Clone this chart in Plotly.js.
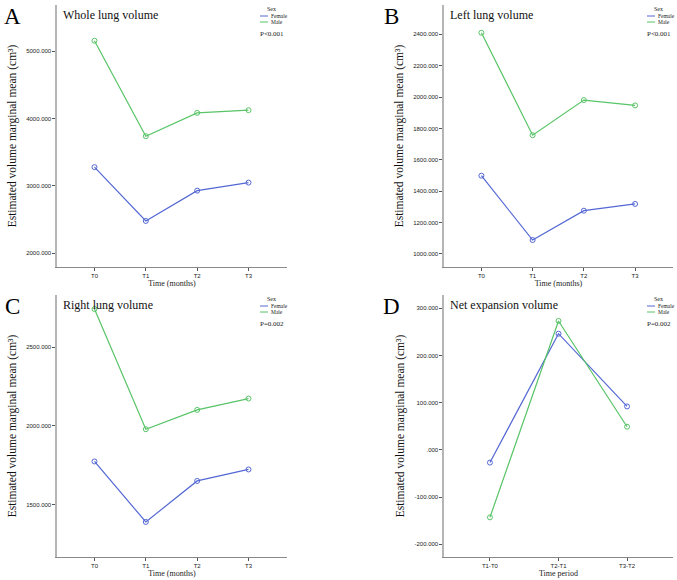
<!DOCTYPE html>
<html>
<head>
<meta charset="utf-8">
<script src="https://cdn.plot.ly/plotly-3.0.1.min.js"></script>
<style>html,body{margin:0;padding:0;background:#fff}#chart{width:677px;height:580px}</style>
</head>
<body>
<div id="chart"></div>
<script>
// ---------- data ----------
var timeCats = ["T0", "T1", "T2", "T3"];
var periodCats = ["T1-T0", "T2-T1", "T3-T2"];

var wholeFemale = [3278, 2480, 2930, 3049];
var wholeMale   = [5153, 3737, 4083, 4123];
var leftFemale  = [1499, 1089, 1276, 1319];
var leftMale    = [2410, 1757, 1981, 1947];
var rightFemale = [1774, 1389, 1650, 1723];
var rightMale   = [2744, 1979, 2102, 2174];
var netFemale   = [-27, 246, 92];
var netMale     = [-143, 273, 49];

var wholeTicks = [2000, 3000, 4000, 5000];
var wholeTickText = ["2000.000", "3000.000", "4000.000", "5000.000"];
var leftTicks = [1000, 1200, 1400, 1600, 1800, 2000, 2200, 2400];
var leftTickText = ["1000.000", "1200.000", "1400.000", "1600.000", "1800.000", "2000.000", "2200.000", "2400.000"];
var rightTicks = [1500, 2000, 2500];
var rightTickText = ["1500.000", "2000.000", "2500.000"];
var netTicks = [-200, -100, 0, 100, 200, 300];
var netTickText = ["-200.000", "-100.000", ".000", "100.000", "200.000", "300.000"];

var seriesNames = ["Female", "Male"];
var panelLetters = ["A", "B", "C", "D"];
var panelTitles = ["Whole lung volume", "Left lung volume", "Right lung volume", "Net expansion volume"];
var pValues = ["P<0.001", "P<0.001", "P=0.002", "P=0.002"];
var legendTitle = "Sex";
var yTitle = "Estimated volume marginal mean (cm\u00b3)";
var xTitles = ["Time (months)", "Time (months)", "Time (months)", "Time period"];

// ---------- style ----------
var W = 677, H = 580;
var colF = "#5468d4", colM = "#58c467";
var serif = "Liberation Serif, Times New Roman, serif";
var sans = "Liberation Sans, Arial, sans-serif";
function px(x) { return x / W; }
function py(y) { return 1 - y / H; }

// panel boxes in pixels: [left, right, top, bottom]
var boxes = [[57, 287, 5, 267], [444, 673, 5, 267], [57, 287, 295, 557], [444, 673, 295, 557]];
var yRanges = [[1797, 5683], [917, 2587], [1166, 2833], [-227, 328]];
var xRanges = [[-0.73, 3.75], [-0.73, 3.74], [-0.73, 3.75], [-0.67, 2.67]];
var tickVals = [wholeTicks, leftTicks, rightTicks, netTicks];
var tickTexts = [wholeTickText, leftTickText, rightTickText, netTickText];
var cats = [timeCats, timeCats, timeCats, periodCats];
var femData = [wholeFemale, leftFemale, rightFemale, netFemale];
var maleData = [wholeMale, leftMale, rightMale, netMale];

var data = [];
var layout = {
  width: W, height: H,
  margin: {l: 0, r: 0, t: 0, b: 0},
  paper_bgcolor: "#fff", plot_bgcolor: "#fff",
  showlegend: false,
  annotations: [], shapes: []
};

for (var i = 0; i < 4; i++) {
  var sfx = i === 0 ? "" : String(i + 1);
  var b = boxes[i];
  var xa = "x" + sfx, ya = "y" + sfx;
  [[femData[i], colF, seriesNames[0]], [maleData[i], colM, seriesNames[1]]].forEach(function (s) {
    data.push({
      type: "scatter", mode: "lines+markers",
      x: cats[i], y: s[0], name: s[2],
      xaxis: xa, yaxis: ya,
      line: {color: s[1], width: 1.2},
      marker: {symbol: "circle-open", size: 5, color: s[1], line: {width: 1, color: s[1]}},
      hoverinfo: "x+y+name"
    });
  });
  layout["xaxis" + sfx] = {
    domain: [px(b[0]), px(b[1])], anchor: ya,
    type: "category", range: xRanges[i],
    showline: true, linecolor: "#8a8a8a", linewidth: 1,
    ticks: "outside", ticklen: 3, tickcolor: "#555", tickwidth: 1,
    showgrid: false, zeroline: false,
    tickfont: {family: sans, size: 6, color: "#222"},
    title: {text: xTitles[i], font: {family: serif, size: 8, color: "#222"}, standoff: 2}
  };
  layout["yaxis" + sfx] = {
    domain: [py(b[3]), py(b[2])], anchor: xa,
    range: yRanges[i],
    tickmode: "array", tickvals: tickVals[i], ticktext: tickTexts[i],
    showline: true, linecolor: "#b5b5b5", linewidth: 1.6,
    ticks: "outside", ticklen: 3, tickcolor: "#555", tickwidth: 1,
    showgrid: false, zeroline: false,
    tickfont: {family: sans, size: 6, color: "#222"},
    title: {text: yTitle, font: {family: serif, size: 11.5, color: "#111"}, standoff: 7}
  };

  var dx = b[0] - 57, dy = b[2] - 5;
  // panel letter
  layout.annotations.push({xref: "paper", yref: "paper", x: px(12 + dx - (i % 2 ? 8 : 0)), y: py(16 + dy), text: panelLetters[i],
    showarrow: false, xanchor: "center", yanchor: "middle", font: {family: serif, size: 23, color: "#000"}});
  // title
  layout.annotations.push({xref: "paper", yref: "paper", x: px(61 + dx), y: py(15 + dy), text: panelTitles[i],
    showarrow: false, xanchor: "left", yanchor: "middle", font: {family: serif, size: 12, color: "#111"}});
  // p value
  layout.annotations.push({xref: "paper", yref: "paper", x: px(258 + dx), y: py(34 + dy), text: pValues[i],
    showarrow: false, xanchor: "left", yanchor: "middle", font: {family: serif, size: 7, color: "#222"}});
  // legend
  layout.annotations.push({xref: "paper", yref: "paper", x: px(271 + dx), y: py(9 + dy), text: legendTitle,
    showarrow: false, xanchor: "center", yanchor: "middle", font: {family: serif, size: 6, color: "#222"}});
  [[seriesNames[0], colF, 16], [seriesNames[1], colM, 22]].forEach(function (l) {
    layout.shapes.push({type: "line", xref: "paper", yref: "paper", x0: px(260 + dx), x1: px(268 + dx),
      y0: py(l[2] + dy), y1: py(l[2] + dy), line: {color: l[1], width: 1}});
    layout.annotations.push({xref: "paper", yref: "paper", x: px(268.5 + dx), y: py(l[2] + dy), text: l[0],
      showarrow: false, xanchor: "left", yanchor: "middle", font: {family: serif, size: 5.5, color: "#222"}});
  });
}

Plotly.newPlot("chart", data, layout, {displayModeBar: false, staticPlot: true});
</script>
</body>
</html>
